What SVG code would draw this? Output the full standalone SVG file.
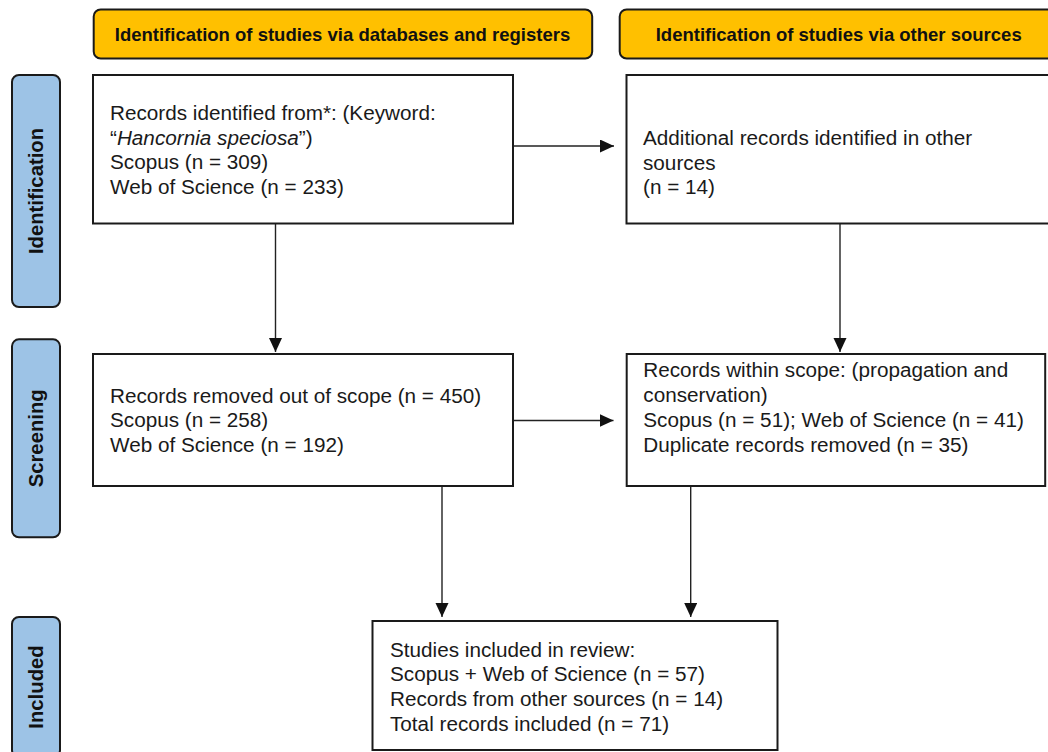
<svg xmlns="http://www.w3.org/2000/svg" width="1048" height="752" viewBox="0 0 1048 752">
<style>
.hdr{fill:#FFC000;stroke:#1a1a1a;stroke-width:2}
.side{fill:#9DC3E6;stroke:#1a1a1a;stroke-width:2}
.box{fill:#ffffff;stroke:#1a1a1a;stroke-width:2}
.ht{font-family:"Liberation Sans",Arial,sans-serif;font-weight:bold;font-size:18.5px;fill:#111;text-anchor:middle}
.st{font-family:"Liberation Sans",Arial,sans-serif;font-weight:bold;font-size:20.3px;fill:#111;text-anchor:middle}
.bt{font-family:"Liberation Sans",Arial,sans-serif;font-size:19.5px;fill:#1a1a1a}
.conn{stroke:#222;stroke-width:1.4;fill:none;marker-end:url(#ah)}
</style>
<defs>
<marker id="ah" markerUnits="userSpaceOnUse" markerWidth="15" markerHeight="14" refX="14" refY="6.5" orient="auto">
<path d="M0,0 L14,6.5 L0,13 z" fill="#111"/>
</marker>
</defs>
<rect width="1048" height="752" fill="#ffffff"/>

<g id="header-databases">
<rect class="hdr" x="93.7" y="9.5" width="498.5" height="49" rx="7"/>
<text class="ht" x="342.5" y="40.6">Identification of studies via databases and registers</text>
</g>
<g id="header-other">
<rect class="hdr" x="619.7" y="9.5" width="440" height="49" rx="7"/>
<text class="ht" x="838.7" y="40.6">Identification of studies via other sources</text>
</g>

<g id="phase-identification">
<rect class="side" x="12" y="75" width="48" height="232" rx="7"/>
<text class="st" transform="translate(43.3 191) rotate(-90)">Identification</text>
</g>
<g id="phase-screening">
<rect class="side" x="12" y="339.3" width="48" height="198" rx="7"/>
<text class="st" transform="translate(43.3 438.3) rotate(-90)">Screening</text>
</g>
<g id="phase-included">
<rect class="side" x="12" y="617" width="48" height="140" rx="7"/>
<text class="st" transform="translate(43.3 687) rotate(-90)">Included</text>
</g>

<g id="connectors">
<line class="conn" x1="513" y1="146" x2="614" y2="146"/>
<line class="conn" x1="275.5" y1="223.5" x2="275.5" y2="352"/>
<line class="conn" x1="840" y1="223.5" x2="840" y2="352"/>
<line class="conn" x1="513" y1="420.5" x2="613.5" y2="420.5"/>
<line class="conn" x1="442" y1="486" x2="442" y2="617"/>
<line class="conn" x1="690.7" y1="486" x2="690.7" y2="617"/>
</g>

<g id="records-identified">
<rect class="box" x="93" y="75" width="420" height="148.5"/>
<g transform="translate(110 0) scale(1.062 1)">
<text class="bt" x="0" y="120">Records identified from*: (Keyword:</text>
<text class="bt" x="0" y="144.7">“<tspan font-style="italic">Hancornia speciosa</tspan>”)</text>
<text class="bt" x="0" y="169.4">Scopus (n = 309)</text>
<text class="bt" x="0" y="194">Web of Science (n = 233)</text>
</g>
</g>

<g id="additional-records">
<rect class="box" x="626.5" y="75" width="430" height="148.5"/>
<g transform="translate(643 0) scale(1.062 1)">
<text class="bt" x="0" y="145">Additional records identified in other</text>
<text class="bt" x="0" y="169.7">sources</text>
<text class="bt" x="0" y="194.4">(n = 14)</text>
</g>
</g>

<g id="records-removed">
<rect class="box" x="93" y="354" width="420" height="132"/>
<g transform="translate(110 0) scale(1.062 1)">
<text class="bt" x="0" y="402.7">Records removed out of scope (n = 450)</text>
<text class="bt" x="0" y="427.4">Scopus (n = 258)</text>
<text class="bt" x="0" y="452.1">Web of Science (n = 192)</text>
</g>
</g>

<g id="records-within-scope">
<rect class="box" x="626.7" y="354" width="418.5" height="132"/>
<g transform="translate(643.3 0) scale(1.062 1)">
<text class="bt" x="0" y="376.7">Records within scope: (propagation and</text>
<text class="bt" x="0" y="401.7">conservation)</text>
<text class="bt" x="0" y="426.7">Scopus (n = 51); Web of Science (n = 41)</text>
<text class="bt" x="0" y="451.7">Duplicate records removed (n = 35)</text>
</g>
</g>

<g id="studies-included">
<rect class="box" x="372.5" y="621" width="405" height="129"/>
<g transform="translate(390 0) scale(1.062 1)">
<text class="bt" x="0" y="656.7">Studies included in review:</text>
<text class="bt" x="0" y="681.4">Scopus + Web of Science (n = 57)</text>
<text class="bt" x="0" y="706">Records from other sources (n = 14)</text>
<text class="bt" x="0" y="730.7">Total records included (n = 71)</text>
</g>
</g>
</svg>
